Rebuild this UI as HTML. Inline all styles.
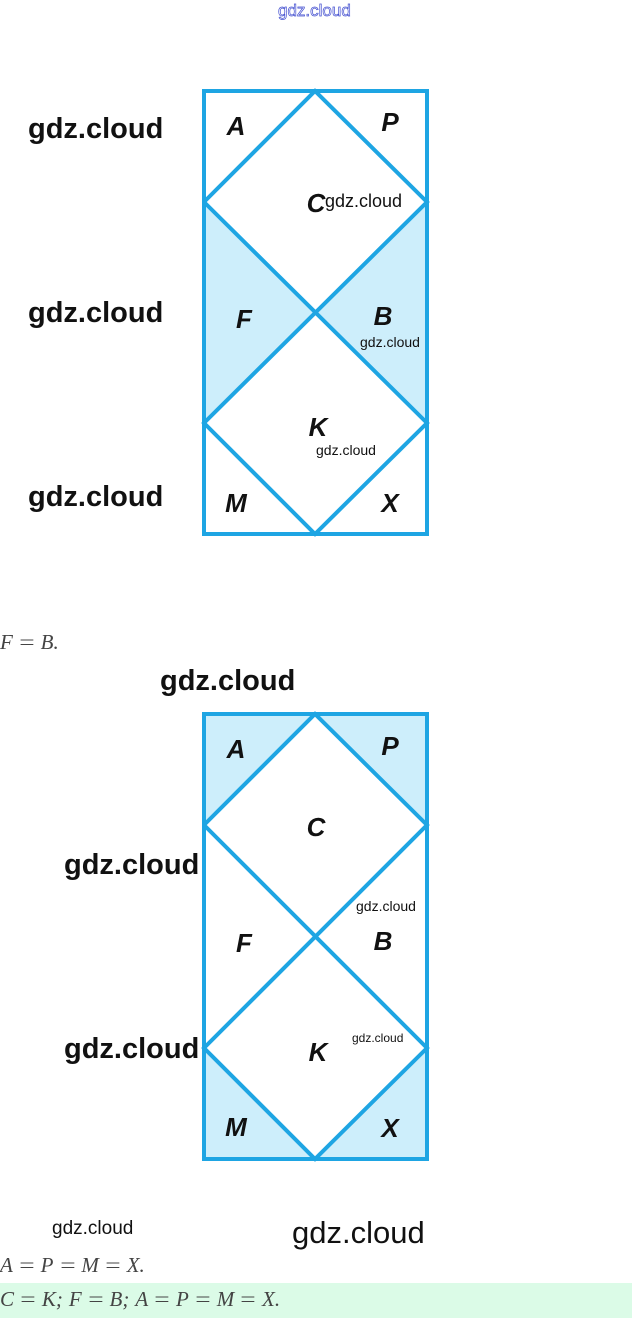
<!DOCTYPE html>
<html><head><style>
body{margin:0;width:632px;height:1318px;position:relative;background:#fff;overflow:hidden;font-family:"Liberation Sans",sans-serif}
.w{position:absolute;font-weight:bold;color:#111;white-space:nowrap}
.m{position:absolute;font-family:"Liberation Serif",serif;font-style:italic;color:#444;font-size:21px;white-space:nowrap}
.m b{display:inline-block;font-style:normal;font-weight:normal;margin:0 8px;transform:scaleX(1.3)}
.m i{display:inline-block;width:6px}
</style></head><body>
<div style="position:absolute;left:278px;top:1px;font-size:17px;color:#fff;-webkit-text-stroke:0.7px #4450d0">gdz.cloud</div>

<svg style="position:absolute;left:0;top:0" width="632" height="1318">
<g stroke="#1ea5e3" stroke-width="4" fill="none">
<polygon points="204,202 315,312 204,423" fill="#cdeefb" stroke="none"/>
<polygon points="427,202 315,312 427,423" fill="#cdeefb" stroke="none"/>
<rect x="204" y="91" width="223" height="443"/>
<polyline points="204,202 315,91 427,202 204,423 315,534 427,423 204,202"/>
</g>
<g stroke="#1ea5e3" stroke-width="4" fill="none">
<polygon points="204,714 315,714 204,825" fill="#cdeefb" stroke="none"/>
<polygon points="315,714 427,714 427,825" fill="#cdeefb" stroke="none"/>
<polygon points="204,1048 204,1159 315,1159" fill="#cdeefb" stroke="none"/>
<polygon points="427,1048 427,1159 315,1159" fill="#cdeefb" stroke="none"/>
<rect x="204" y="714" width="223" height="445"/>
<polyline points="204,825 315,714 427,825 204,1048 315,1159 427,1048 204,825"/>
</g>
<g font-family="Liberation Sans,sans-serif" font-weight="bold" font-style="italic" font-size="26" fill="#111" text-anchor="middle">
<text x="236" y="135">A</text><text x="390" y="131">P</text><text x="316" y="212">C</text>
<text x="244" y="328">F</text><text x="383" y="325">B</text><text x="318" y="436">K</text>
<text x="236" y="512">M</text><text x="390" y="512">X</text>
<text x="236" y="758">A</text><text x="390" y="755">P</text><text x="316" y="836">C</text>
<text x="244" y="952">F</text><text x="383" y="950">B</text><text x="318" y="1061">K</text>
<text x="236" y="1136">M</text><text x="390" y="1137">X</text>
</g>
</svg>

<div class="w" style="left:28px;top:113px;font-size:29px">gdz.cloud</div>
<div class="w" style="left:28px;top:297px;font-size:29px">gdz.cloud</div>
<div class="w" style="left:28px;top:481px;font-size:29px">gdz.cloud</div>
<div class="w" style="left:325px;top:191px;font-size:18px;font-weight:normal">gdz.cloud</div>
<div class="w" style="left:360px;top:334px;font-size:14px;font-weight:normal">gdz.cloud</div>
<div class="w" style="left:316px;top:442px;font-size:14px;font-weight:normal">gdz.cloud</div>
<div class="m" style="left:0;top:630px">F<b>=</b>B.</div>
<div class="w" style="left:160px;top:665px;font-size:29px">gdz.cloud</div>
<div class="w" style="left:64px;top:849px;font-size:29px">gdz.cloud</div>
<div class="w" style="left:64px;top:1033px;font-size:29px">gdz.cloud</div>
<div class="w" style="left:356px;top:898px;font-size:14px;font-weight:normal">gdz.cloud</div>
<div class="w" style="left:352px;top:1031px;font-size:12px;font-weight:normal">gdz.cloud</div>
<div class="w" style="left:52px;top:1218px;font-size:19px;font-weight:normal">gdz.cloud</div>
<div class="w" style="left:292px;top:1215px;font-size:31px;font-weight:normal">gdz.cloud</div>
<div class="m" style="left:0;top:1253px">A<b>=</b>P<b>=</b>M<b>=</b>X.</div>
<div style="position:absolute;left:0;top:1283px;width:632px;height:35px;background:#dbfbe7"></div>
<div class="m" style="left:0;top:1287px">C<b>=</b>K;<i></i>F<b>=</b>B;<i></i>A<b>=</b>P<b>=</b>M<b>=</b>X.</div>
</body></html>
